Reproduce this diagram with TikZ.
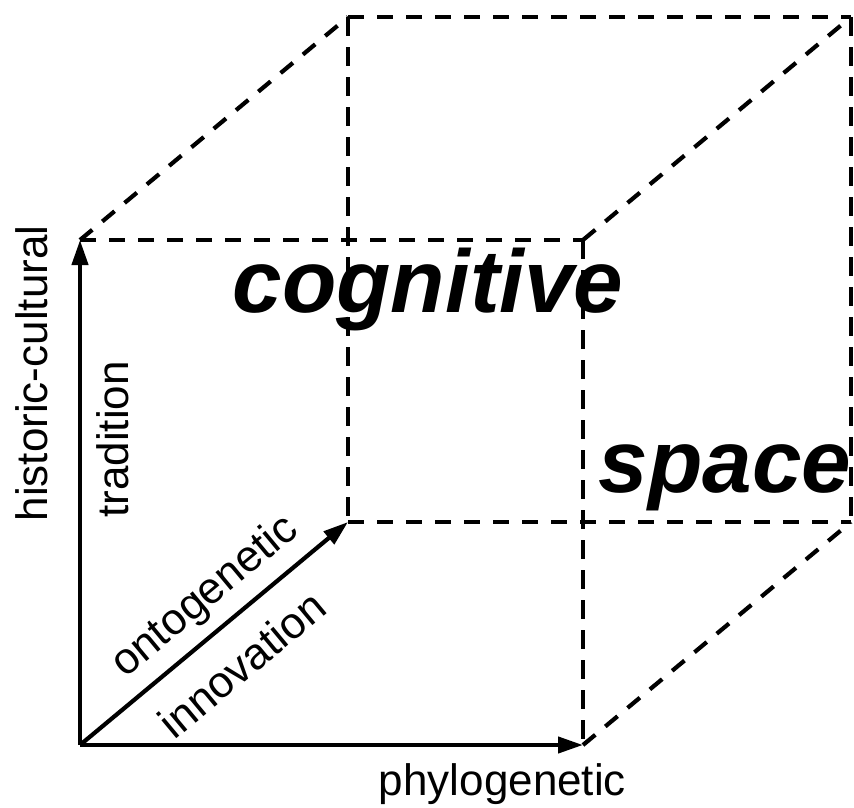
\documentclass[tikz,border=0pt]{standalone}
\usepackage{fontspec}
\setmainfont{Liberation Sans}
\usetikzlibrary{arrows.meta}
\begin{document}
\begin{tikzpicture}[x=1pt,y=-1pt,
  axis/.style={line width=4.2pt,-{Triangle[length=25pt,width=16pt]}},
  hdash/.style={line width=4.2pt,dash pattern=on 16pt off 13pt},
  vdash/.style={line width=4.8pt,dash pattern=on 19pt off 11pt},
  lbl/.style={inner sep=0pt,font=\fontsize{44}{50}\selectfont},
  big/.style={inner sep=0pt,font=\fontsize{89}{100}\selectfont\bfseries\itshape}]
\useasboundingbox (0,0) rectangle (854,807);
% corners
\coordinate (O) at (80,745);
\coordinate (FTL) at (80,240);
\coordinate (FBR) at (583,745);
\coordinate (FTR) at (583,240);
\coordinate (BBL) at (348,522);
\coordinate (BTL) at (348,17);
\coordinate (BTR) at (851,17);
\coordinate (BBR) at (851,522);
% dashed edges
\draw[hdash] (FTL) -- (FTR);
\draw[vdash] (FTR) -- (FBR);
\draw[hdash] (BTL) -- (BTR);
\draw[hdash] (BBL) -- (BBR);
\draw[vdash] (BTL) -- (BBL);
\draw[vdash] (BTR) -- (BBR);
\draw[hdash] (FTL) -- (BTL);
\draw[hdash] (FTR) -- (BTR);
\draw[hdash] (FBR) -- (BBR);
% axes
\draw[axis] (O) -- (FTL);
\draw[axis] (O) -- (FBR);
\draw[axis] (O) -- (BBL);
% labels
\node[lbl,rotate=90,anchor=base] (hc) at (47,373.5) {historic-cultural};
\node[lbl,rotate=90,anchor=base] (tr) at (128,439.5) {tradition};
\node[lbl,anchor=base] (ph) at (502.5,795) {phylogenetic};
\node[lbl,rotate=39.76,anchor=base] (on) at (212.8,605.9) {ontogenetic};
\node[lbl,rotate=39.76,anchor=base] (in) at (251.8,676.2) {innovation};
\node[big,anchor=base] (cog) at (428,312) {cognitive};
\node[big,anchor=base] (sp) at (725,492) {space};
\end{tikzpicture}
\end{document}
